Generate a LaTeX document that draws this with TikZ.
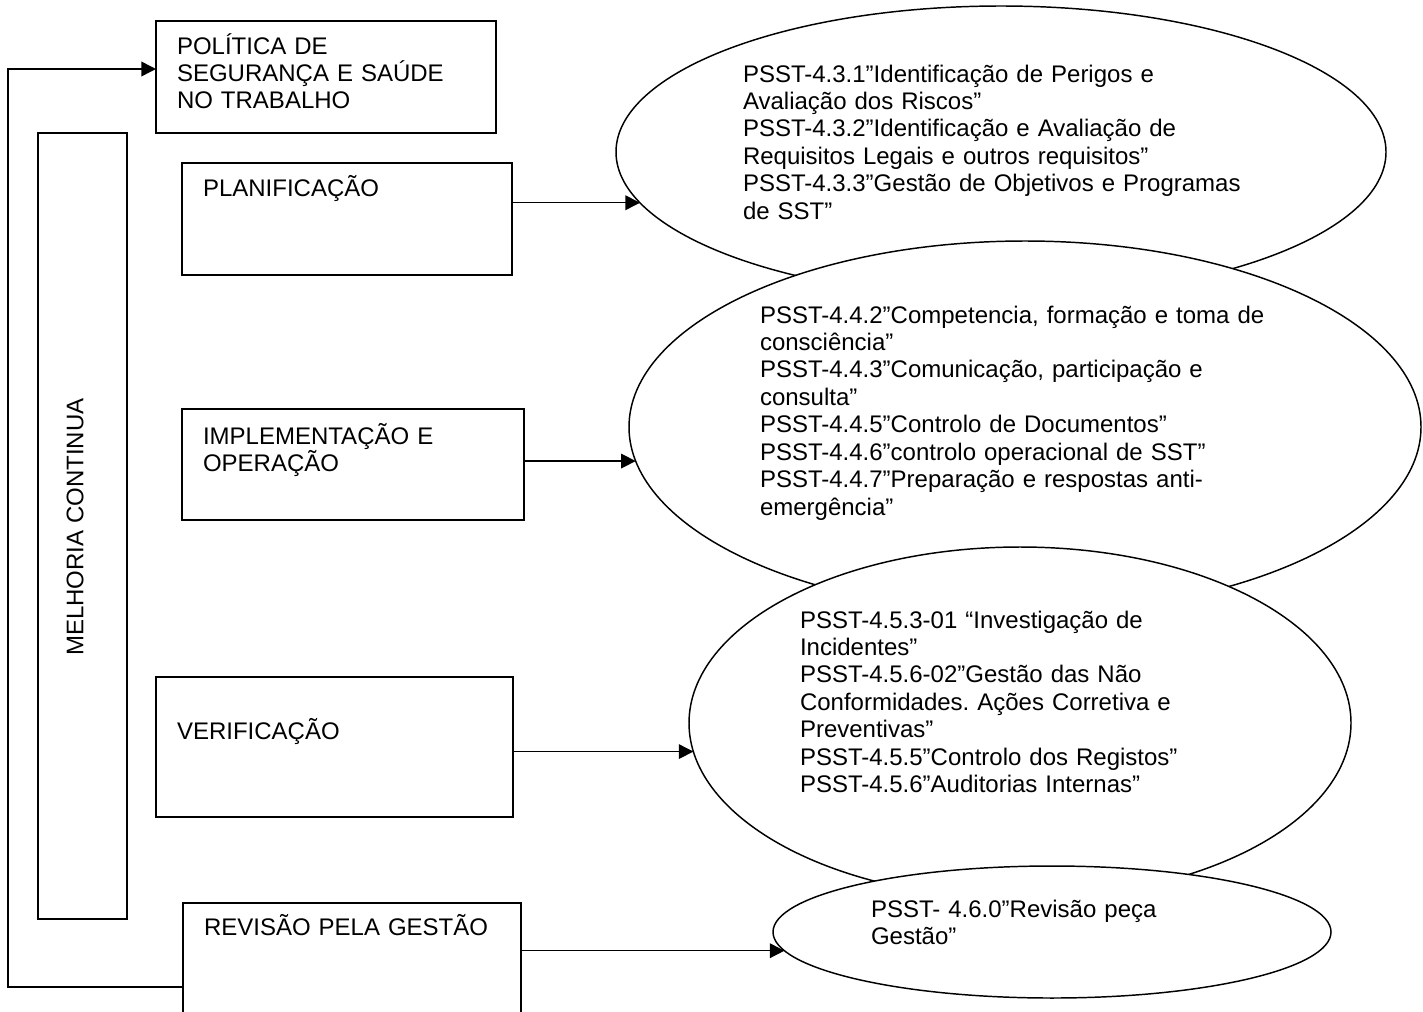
\documentclass[tikz,border=0pt]{standalone}
\usepackage{fontspec}
\setmainfont{Liberation Sans}
\usetikzlibrary{arrows.meta,shapes.geometric,calc}

\begin{document}
\frenchspacing
\begin{tikzpicture}[x=0.75pt,y=-0.75pt,
  box/.style={draw,line width=1.4pt,rectangle,inner sep=0pt,outer sep=0pt},
  oval/.style={draw,line width=1.1pt,ellipse,fill=white,inner sep=0pt,outer sep=0pt},
  txt/.style={anchor=base west,inner sep=0pt,outer sep=0pt,align=left,text width=420pt,
    font=\fontsize{18pt}{20.6pt}\selectfont},
  link/.style={line width=1.1pt,-{Triangle[length=11pt,width=11pt]}}]

\useasboundingbox (0,0) rectangle (1423,1011);
\clip (0,0) rectangle (1423,1011);

% stage boxes
\node[box,minimum width=255pt,minimum height=84pt] (pol) at (326,77) {};
\node[box,minimum width=66.75pt,minimum height=589.5pt] (melh) at (82.5,526) {};
\node[box,minimum width=247.5pt,minimum height=84pt] (plan) at (347,219) {};
\node[box,minimum width=256.5pt,minimum height=83.25pt] (impl) at (353,464.5) {};
\node[box,minimum width=267.75pt,minimum height=105pt] (ver) at (334.5,747) {};
\node[box,minimum width=253.5pt,minimum height=126pt] (rev) at (352,987) {};

% box labels
\node[txt] (polt) at ($(pol.north west)+(21,33)$) {POLÍTICA DE\\SEGURANÇA E SAÚDE\\NO TRABALHO};
\node[txt] (plant) at ($(plan.north west)+(21,33)$) {PLANIFICAÇÃO};
\node[txt] (implt) at ($(impl.north west)+(21,35)$) {IMPLEMENTAÇÃO E\\OPERAÇÃO};
\node[txt] (vert) at ($(ver.north west)+(21,62)$) {VERIFICAÇÃO};
\node[txt] (revt) at ($(rev.north west)+(21,32)$) {REVISÃO PELA GESTÃO};
\node[inner sep=0pt,rotate=90,font=\fontsize{18pt}{20.6pt}\selectfont] (melht) at (75,527) {MELHORIA CONTINUA};

% procedure ellipses, each laid over the previous one
\node[oval,minimum width=577.5pt,minimum height=219pt] (e1) at (1001,152) {};
\node[txt] (e1t) at ($(e1.center)+(-258,-70)$) {PSST-4.3.1”Identificação de Perigos e\\Avaliação dos Riscos”\\PSST-4.3.2”Identificação e Avaliação de\\Requisitos Legais e outros requisitos”\\PSST-4.3.3”Gestão de Objetivos e Programas\\de SST”};

\node[oval,minimum width=594pt,minimum height=279pt] (e2) at (1025,427) {};
\node[txt] (e2t) at ($(e2.center)+(-265,-104)$) {PSST-4.4.2”Competencia, formação e toma de\\consciência”\\PSST-4.4.3”Comunicação, participação e\\consulta”\\PSST-4.4.5”Controlo de Documentos”\\PSST-4.4.6”controlo operacional de SST”\\PSST-4.4.7”Preparação e respostas anti-\\emergência”};

\node[oval,minimum width=496.5pt,minimum height=264pt] (e3) at (1020,723) {};
\node[txt] (e3t) at ($(e3.center)+(-220,-95)$) {PSST-4.5.3-01 “Investigação de\\Incidentes”\\PSST-4.5.6-02”Gestão das Não\\Conformidades. Ações Corretiva e\\Preventivas”\\PSST-4.5.5”Controlo dos Registos”\\PSST-4.5.6”Auditorias Internas”};

\node[oval,minimum width=418.5pt,minimum height=99pt] (e4) at (1052,932) {};
\node[txt] (e4t) at ($(e4.center)+(-181,-15)$) {PSST- 4.6.0”Revisão peça\\Gestão”};

% stage to procedure connectors
\draw[link] (plan.east |- e1.188) -- (e1.188);
\draw[link] (impl.east |- e2.185) -- (e2.185);
\draw[link] (ver.east |- e3.185) -- (e3.185);
\draw[link] (rev.east |- e4.184) -- (e4.184);

% continual improvement feedback loop
\coordinate (fbl) at (8,69);
\draw[link] (rev.west) -| (fbl) -- (pol.west |- fbl);
\end{tikzpicture}
\end{document}
